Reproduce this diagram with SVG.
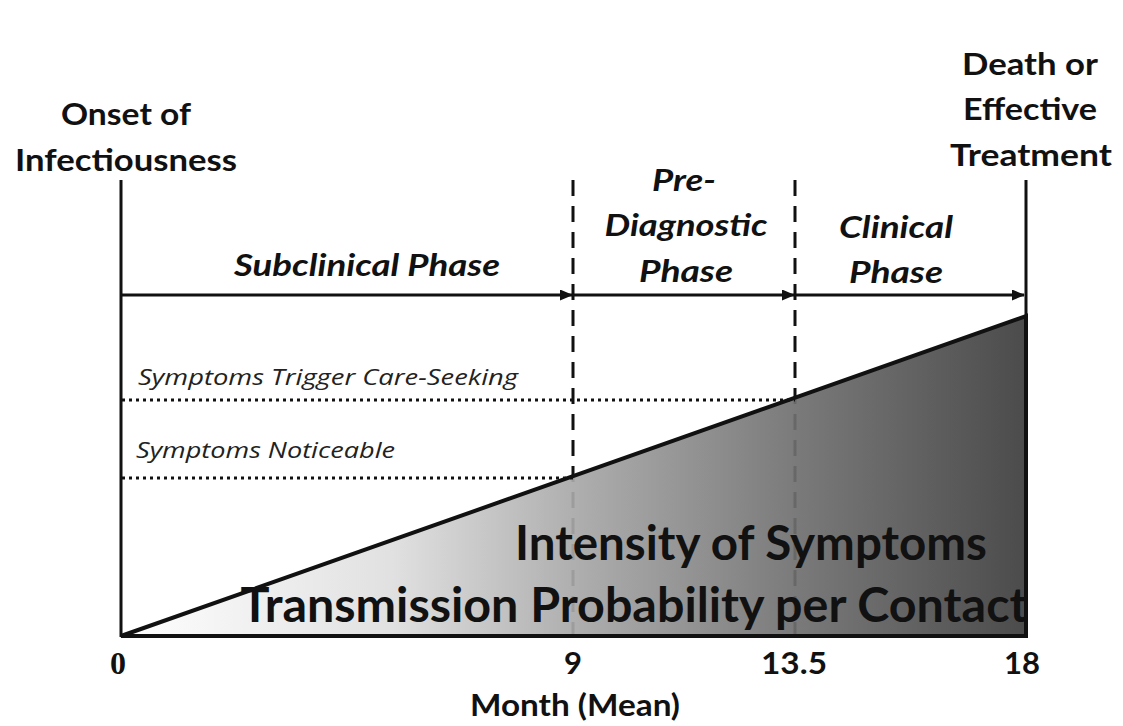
<svg xmlns="http://www.w3.org/2000/svg" width="1123" height="726" viewBox="0 0 1123 726">
<style>
.lbl{font-family:Lato,"Liberation Sans",sans-serif;font-weight:bold;fill:#111;text-anchor:middle}
.big{font-size:31px}
.phase{font-size:30px;font-style:italic}
.sym{font-family:"Open Sans","Liberation Sans",sans-serif;font-style:italic;font-size:21px;fill:#222}
.huge{font-family:Lato,"Liberation Sans",sans-serif;font-weight:bold;font-size:47px;fill:#111;text-anchor:middle}
.tick{font-family:Lato,"Liberation Sans",sans-serif;font-weight:bold;font-size:31px;fill:#111;text-anchor:middle}
.solid{stroke:#111;stroke-width:3;fill:none}
.dash{stroke:#111;stroke-width:3;stroke-dasharray:16 10;fill:none}
.dot{stroke:#111;stroke-width:3;stroke-dasharray:3 4;fill:none}
</style>
<defs>
<linearGradient id="g" x1="121" y1="0" x2="1026" y2="0" gradientUnits="userSpaceOnUse">
<stop offset="0" stop-color="#ffffff"/>
<stop offset="0.3" stop-color="#dedede"/>
<stop offset="0.5" stop-color="#a8a8a8"/>
<stop offset="0.75" stop-color="#6e6e6e"/>
<stop offset="1" stop-color="#3c3c3c"/>
</linearGradient>
<marker id="ah" markerWidth="13" markerHeight="11" refX="12" refY="5.5" orient="auto" markerUnits="userSpaceOnUse">
<path d="M0,0 L13,5.5 L0,11 z" fill="#111"/>
</marker>
</defs>
<rect width="1123" height="726" fill="#fff"/>
<g id="connectors">
<line class="dash" x1="573" y1="180" x2="573" y2="636"/>
<line class="dash" x1="795" y1="180" x2="795" y2="636"/>
</g>
<g id="triangle">
<polygon points="121,636 1026,316 1026,636" fill="url(#g)" fill-opacity="0.92" stroke="#111" stroke-width="4" stroke-linejoin="miter"/>
</g>
<g id="connectors-top">
<line class="solid" x1="121" y1="180" x2="121" y2="637"/>
<line class="solid" x1="1026" y1="180" x2="1026" y2="637"/>
<line class="dot" x1="122" y1="400" x2="795" y2="400"/>
<line class="dot" x1="122" y1="478" x2="573" y2="478"/>
<line class="solid" x1="121" y1="295" x2="572" y2="295" marker-end="url(#ah)"/>
<line class="solid" x1="573" y1="295" x2="794" y2="295" marker-end="url(#ah)"/>
<line class="solid" x1="795" y1="295" x2="1024" y2="295" marker-end="url(#ah)"/>
</g>
<g id="onset">
<text class="lbl big" x="126" y="125" textLength="130" lengthAdjust="spacingAndGlyphs">Onset of</text>
<text class="lbl big" x="126" y="171" textLength="222" lengthAdjust="spacingAndGlyphs">Infectiousness</text>
</g>
<g id="death">
<text class="lbl big" x="1030" y="75" textLength="136" lengthAdjust="spacingAndGlyphs">Death or</text>
<text class="lbl big" x="1030" y="120" textLength="134" lengthAdjust="spacingAndGlyphs">Effective</text>
<text class="lbl big" x="1031" y="166" textLength="162" lengthAdjust="spacingAndGlyphs">Treatment</text>
</g>
<g id="subclinical">
<text class="lbl phase" x="367" y="276" textLength="266" lengthAdjust="spacingAndGlyphs">Subclinical Phase</text>
</g>
<g id="prediagnostic">
<text class="lbl phase" x="684" y="191" textLength="64" lengthAdjust="spacingAndGlyphs">Pre-</text>
<text class="lbl phase" x="686" y="236" textLength="163" lengthAdjust="spacingAndGlyphs">Diagnostic</text>
<text class="lbl phase" x="686" y="282" textLength="94" lengthAdjust="spacingAndGlyphs">Phase</text>
</g>
<g id="clinical">
<text class="lbl phase" x="896" y="238" textLength="114" lengthAdjust="spacingAndGlyphs">Clinical</text>
<text class="lbl phase" x="896" y="283" textLength="94" lengthAdjust="spacingAndGlyphs">Phase</text>
</g>
<g id="thresholds">
<text class="sym" x="138" y="385" textLength="380" lengthAdjust="spacingAndGlyphs">Symptoms Trigger Care-Seeking</text>
<text class="sym" x="136" y="458" textLength="259" lengthAdjust="spacingAndGlyphs">Symptoms Noticeable</text>
</g>
<g id="intensity">
<text class="huge" x="751" y="560" textLength="472" lengthAdjust="spacingAndGlyphs">Intensity of Symptoms</text>
<text class="huge" x="634" y="622" textLength="787" lengthAdjust="spacingAndGlyphs">Transmission Probability per Contact</text>
</g>
<g id="axis">
<text x="118" y="674" font-family="Liberation Serif,serif" font-weight="bold" font-size="32" fill="#111" text-anchor="middle">0</text>
<text class="tick" x="573" y="674">9</text>
<text class="tick" x="794" y="674" textLength="66" lengthAdjust="spacingAndGlyphs">13.5</text>
<text class="tick" x="1022" y="674">18</text>
<text class="tick" x="575" y="716" textLength="210" lengthAdjust="spacingAndGlyphs">Month (Mean)</text>
</g>
</svg>
